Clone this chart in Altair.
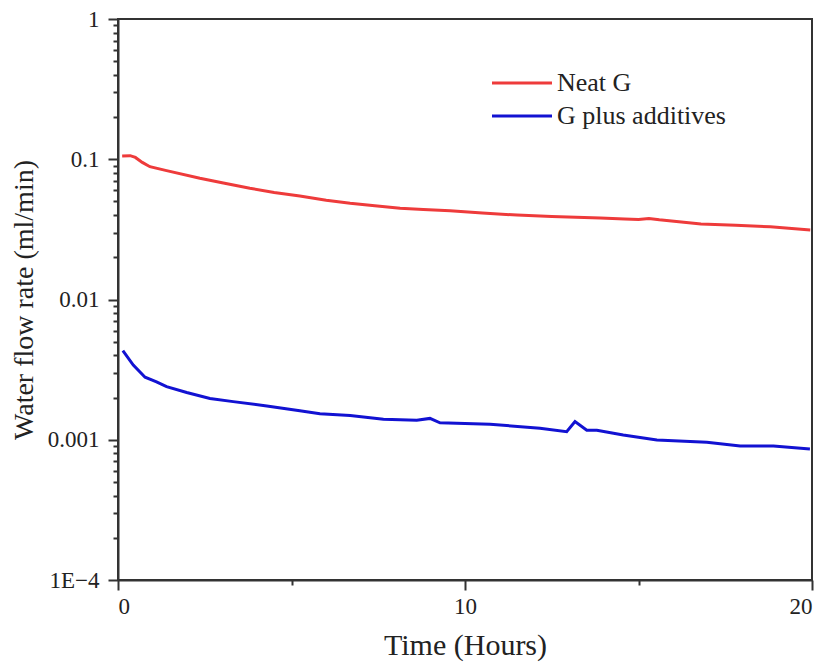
import altair as alt
import pandas as pd

# Neat G (red)
neat_t = [0.12, 0.35, 0.5, 0.7, 0.92, 1.4, 2.36, 3.0, 3.8, 4.5, 5.24, 6.0, 6.69, 7.4, 8.13,
          8.8, 9.57, 10.5, 11.5, 12.5, 13.9, 14.6, 15.0, 15.3, 15.6, 16.8, 17.8, 18.8, 19.95]
neat_v = [0.1055, 0.106, 0.103, 0.095, 0.0885, 0.083, 0.0731, 0.068, 0.0621, 0.058, 0.0547,
          0.051, 0.0485, 0.0466, 0.0447, 0.0438, 0.0430, 0.0414, 0.0400, 0.0390, 0.0381,
          0.0375, 0.0372, 0.0378, 0.0370, 0.0345, 0.0338, 0.0330, 0.0313]

# G plus additives (blue)
add_t = [0.14, 0.44, 0.78, 1.11, 1.40, 1.98, 2.65, 3.32, 4.29, 5.24, 5.82, 6.69, 7.65, 8.61,
         8.99, 9.28, 10.72, 12.16, 12.93, 13.17, 13.51, 13.8, 14.56, 15.53, 16.97, 17.93,
         18.89, 19.94]
add_v = [0.00432, 0.00341, 0.00279, 0.00259, 0.00239, 0.00217, 0.00197, 0.00187, 0.00174,
         0.00161, 0.00153, 0.00149, 0.00140, 0.00138, 0.00142, 0.00132, 0.00129, 0.00121,
         0.00114, 0.00135, 0.00117, 0.00117, 0.00108, 0.000996, 0.00096, 0.000902,
         0.000902, 0.000859]

series_names = ["Neat G", "G plus additives"]
series_colors = ["#ee3b3b", "#1212d2"]

y_major = [1e-4, 1e-3, 1e-2, 1e-1, 1]
y_major_labels = ["1E\u22124", "0.001", "0.01", "0.1", "1"]
y_minor = [k * 10.0 ** n for n in range(-4, 0) for k in range(2, 10)]
x_major = [0, 10, 20]
x_minor = [5, 15]

df = pd.concat([
    pd.DataFrame({"t": neat_t, "v": neat_v, "s": series_names[0], "o": range(len(neat_t))}),
    pd.DataFrame({"t": add_t, "v": add_v, "s": series_names[1], "o": range(len(add_t))}),
])

FONT = "Liberation Serif"
TXT = "#222"
AX = "#333"

# label expression built from the arrays
expr = f"'{y_major_labels[-1]}'"
for v, l in reversed(list(zip(y_major[:-1], y_major_labels[:-1]))):
    expr = f"datum.value < {v * 3:g} ? '{l}' : ({expr})"

xscale = alt.Scale(domain=[0, 20], nice=False, zero=False)
yscale = alt.Scale(type="log", domain=[1e-4, 1], nice=False)

common = dict(grid=False, domainColor=AX, domainWidth=2, tickColor=AX, tickWidth=2,
              labelFont=FONT, titleFont=FONT, labelColor=TXT, titleColor=TXT,
              titleFontWeight="normal")

main = alt.Chart(df).mark_line(strokeWidth=3).encode(
    x=alt.X("t:Q", scale=xscale, axis=alt.Axis(
        orient="bottom", values=x_major, title="Time (Hours)", tickSize=10, labelPadding=5,
        titlePadding=12, labelFontSize=23, titleFontSize=30, format="d", **common)),
    y=alt.Y("v:Q", scale=yscale, axis=alt.Axis(
        orient="left", values=y_major, title="Water flow rate (ml/min)", tickSize=10,
        labelPadding=9, titlePadding=9, labelFontSize=23, titleFontSize=28,
        labelExpr=expr, **common)),
    color=alt.Color("s:N", scale=alt.Scale(domain=series_names, range=series_colors),
                    sort=series_names,
                    legend=alt.Legend(title=None, orient="none", legendX=391, legendY=51,
                                      symbolType="M-3,0L3,0", symbolSize=400,
                                      symbolStrokeWidth=3, labelFontSize=26, labelFont=FONT,
                                      labelColor=TXT, rowPadding=7, padding=0,
                                      labelOffset=22, labelLimit=400)),
    order="o:Q",
)

minor = alt.Chart(df).mark_line(opacity=0).encode(
    x=alt.X("t:Q", scale=xscale, axis=alt.Axis(
        orient="bottom", values=x_minor, labels=False, title=None, tickSize=5, grid=False,
        domain=False, tickColor=AX, tickWidth=2)),
    y=alt.Y("v:Q", scale=yscale, axis=alt.Axis(
        orient="left", values=y_minor, labels=False, title=None, tickSize=5, grid=False,
        domain=False, tickColor=AX, tickWidth=2)),
    detail="s:N",
)

chart = alt.layer(main, minor).resolve_axis(x="independent", y="independent").properties(
    width=694, height=561,
    autosize=alt.AutoSizeParams(type="none"),
    padding={"left": 118, "top": 19, "right": 15, "bottom": 89},
    background="white",
).configure_view(stroke=AX, strokeWidth=2)

chart.save("out.html", embed_options={"renderer": "svg", "actions": False})
